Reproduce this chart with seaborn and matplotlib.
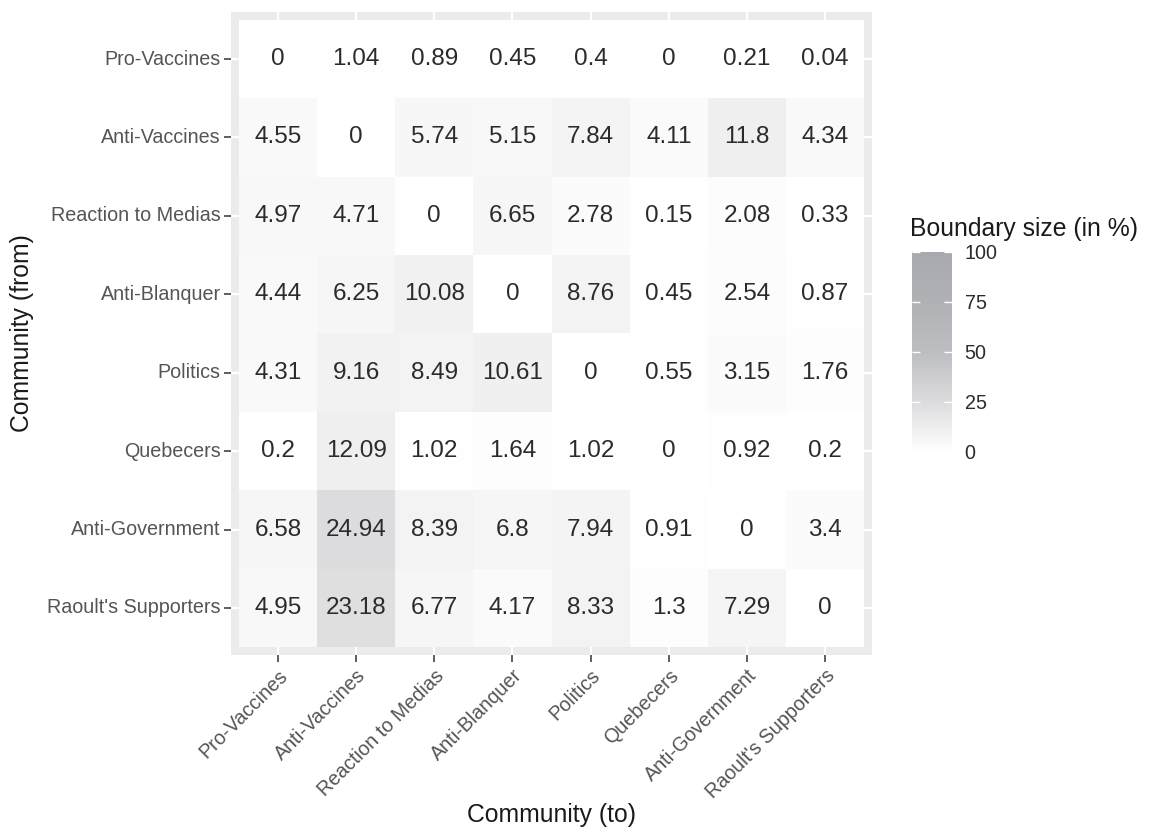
import numpy as np
import pandas as pd
import matplotlib
matplotlib.use("Agg")
import matplotlib.pyplot as plt
from matplotlib.colors import LinearSegmentedColormap
import seaborn as sns

# Communities (rows = source, columns = target)
communities = ["Pro-Vaccines", "Anti-Vaccines", "Reaction to Medias", "Anti-Blanquer",
               "Politics", "Quebecers", "Anti-Government", "Raoult's Supporters"]

pro_vaccines = [0, 1.04, 0.89, 0.45, 0.4, 0, 0.21, 0.04]
anti_vaccines = [4.55, 0, 5.74, 5.15, 7.84, 4.11, 11.8, 4.34]
reaction_to_medias = [4.97, 4.71, 0, 6.65, 2.78, 0.15, 2.08, 0.33]
anti_blanquer = [4.44, 6.25, 10.08, 0, 8.76, 0.45, 2.54, 0.87]
politics = [4.31, 9.16, 8.49, 10.61, 0, 0.55, 3.15, 1.76]
quebecers = [0.2, 12.09, 1.02, 1.64, 1.02, 0, 0.92, 0.2]
anti_government = [6.58, 24.94, 8.39, 6.8, 7.94, 0.91, 0, 3.4]
raoult_supporters = [4.95, 23.18, 6.77, 4.17, 8.33, 1.3, 7.29, 0]

legend_ticks = [0, 25, 50, 75, 100]

matrix = pd.DataFrame(
    [pro_vaccines, anti_vaccines, reaction_to_medias, anti_blanquer,
     politics, quebecers, anti_government, raoult_supporters],
    index=communities, columns=communities,
)
labels = matrix.apply(lambda col: col.map(lambda v: f"{v:g}")).values

FONT = "Liberation Sans"
plt.rcParams["font.family"] = [FONT, "DejaVu Sans"]

cmap = LinearSegmentedColormap.from_list(
    "boundary",
    [(0.0, "#FFFFFF"), (0.1, "#F1F1F2"), (0.25, "#DCDCDE"),
     (0.5, "#BDBEC2"), (0.75, "#B0B1B5"), (1.0, "#A8A9AE")],
)

W, H = 1149, 832
fig = plt.figure(figsize=(W / 100, H / 100), dpi=100)
fig.patch.set_facecolor("white")

px_l, px_r, px_t, px_b = 231, 872, 12, 655
ax = fig.add_axes([px_l / W, 1 - px_b / H, (px_r - px_l) / W, (px_b - px_t) / H])

sns.heatmap(
    matrix, ax=ax, cmap=cmap, vmin=0, vmax=100, cbar=False,
    annot=labels, fmt="", linewidths=0,
    annot_kws={"fontsize": 17.5, "color": "#2b2b2b", "family": FONT},
)

# Panel background with white major grid lines, tiles drawn over it
ax.set_facecolor("#EBEBEB")
ax.set_xlim(-0.1, len(communities) + 0.1)
ax.set_ylim(len(communities) + 0.1, -0.1)
ax.set_axisbelow(True)
ax.grid(True, color="white", linewidth=1.6)
for s in ax.spines.values():
    s.set_visible(False)

ax.set_xticks(np.arange(len(communities)) + 0.5)
ax.set_yticks(np.arange(len(communities)) + 0.5)
ax.set_xticklabels(communities, rotation=45, ha="right", va="top",
                   rotation_mode="anchor", fontsize=14.2, color="#555555")
ax.set_yticklabels(communities, rotation=0, fontsize=14.2, color="#555555")
ax.tick_params(axis="both", length=5, width=1.1, color="#333333", pad=2.5)
ax.tick_params(axis="x", pad=3)

ax.set_xlabel("Community (to)", fontsize=17.8, color="#1a1a1a")
ax.set_ylabel("Community (from)", fontsize=17.8, color="#1a1a1a")
ax.xaxis.set_label_coords(0.5, -(815 - px_b) / (px_b - px_t))
ax.xaxis.label.set_va("center")
ax.yaxis.set_label_coords((22 - px_l) / (px_r - px_l), 0.5)
ax.yaxis.label.set_va("center")

# Colour bar legend
cb_l, cb_r, cb_t, cb_b = 912, 952, 252, 452
cax = fig.add_axes([cb_l / W, 1 - cb_b / H, (cb_r - cb_l) / W, (cb_b - cb_t) / H])
cb = fig.colorbar(ax.collections[0], cax=cax)
cb.outline.set_visible(False)
cb.set_ticks(legend_ticks)
cb.set_ticklabels([str(t) for t in legend_ticks])
cax.tick_params(left=True, right=True, labelleft=False, labelright=True,
                direction="in", length=5.5, width=1.0, color="white",
                labelsize=14.2, labelcolor="#2b2b2b", pad=9)
fig.text(910 / W, 1 - 229 / H, "Boundary size (in %)", fontsize=17.8,
         color="#1a1a1a", ha="left", va="center")

fig.savefig("out.png", dpi=100, facecolor="white")
